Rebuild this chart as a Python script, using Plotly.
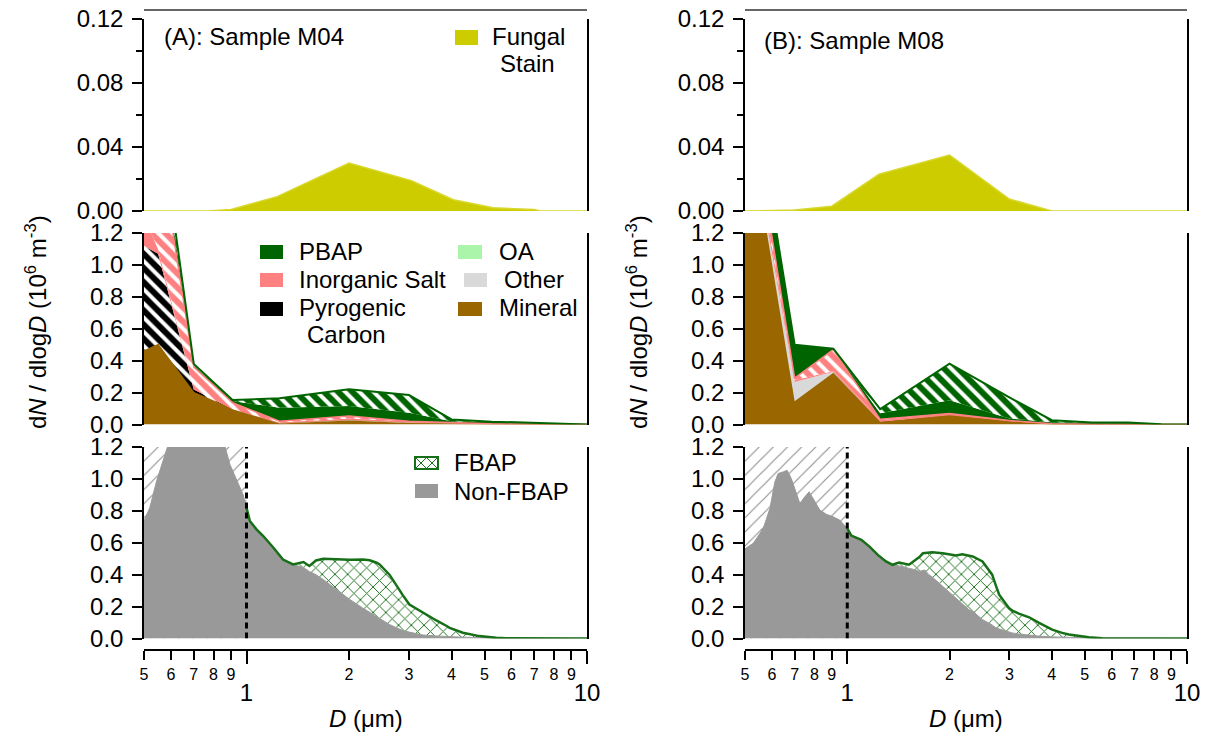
import numpy as np
import plotly.graph_objects as go

W, H = 1209, 745
OFF = 8               # page body margin the browser adds around the figure
FONT = "Arial, Liberation Sans, sans-serif"

X_MIN, X_MAX = 0.5, 10.0
CUTOFF = 1.0          # dashed line in bottom panels (um)
Y_TOP_MAX = 0.12
Y_MAX = 1.2

# ---------------- Top panels: fungal stain ----------------
D_FUNGAL_A = [0.5, 0.77, 0.9, 1.23, 2.0, 3.05, 4.05, 5.3, 7.0, 7.3, 10.0]
FUNGAL_A = [0.0, 0.0, 0.001, 0.009, 0.030, 0.019, 0.007, 0.002, 0.001, 0.0, 0.0]
D_FUNGAL_B = [0.5, 0.7, 0.9, 1.24, 2.0, 3.0, 4.0, 10.0]
FUNGAL_B = [0.0, 0.0006, 0.003, 0.023, 0.035, 0.0075, 0.0, 0.0]

# ---------------- Middle panels: particle classes ----------------
D_CLASS = [0.5, 0.55, 0.70, 0.91, 1.25, 2.0, 3.0, 4.0, 5.25, 6.7, 8.4, 10.0]

MINERAL_A = [0.46, 0.50, 0.20, 0.095, 0.006, 0.025, 0.010, 0.006, 0.004, 0.003, 0.002, 0.0]
PYRO_A = [0.66, 0.57, 0.02, 0, 0, 0, 0, 0, 0, 0, 0, 0]
OTHER_A = [0, 0, 0, 0, 0.002, 0.003, 0.002, 0, 0, 0, 0, 0]
OA_A = [0, 0, 0, 0, 0, 0, 0, 0, 0, 0, 0, 0]
SALT_A = [0.18, 0.03, 0.0, 0.0, 0.004, 0.010, 0.008, 0.004, 0, 0, 0, 0]
SALT_MIX_A = [0.40, 0.70, 0.14, 0.042, 0.008, 0.015, 0.0, 0, 0, 0, 0, 0]
PBAP_A = [0.05, 0.10, 0.01, 0.010, 0.085, 0.063, 0.054, 0.010, 0.014, 0.009, 0.006, 0.0]
PBAP_MIX_A = [0.05, 0.10, 0.01, 0.007, 0.059, 0.105, 0.111, 0.012, 0, 0, 0, 0]

MINERAL_B = [2.0, 1.5, 0.146, 0.325, 0.0125, 0.058, 0.02, 0.004, 0.002, 0.002, 0.001, 0.0]
PYRO_B = [0, 0, 0, 0, 0.005, 0, 0, 0, 0, 0, 0, 0]
OTHER_B = [0.05, 0.03, 0.121, 0.005, 0, 0, 0, 0, 0, 0, 0, 0]
OA_B = [0, 0, 0, 0, 0, 0, 0, 0, 0, 0, 0, 0]
SALT_B = [0.05, 0.05, 0.01, 0.005, 0.01, 0.011, 0.005, 0, 0, 0, 0, 0]
SALT_MIX_B = [0.1, 0.1, 0.013, 0.135, 0.005, 0, 0, 0, 0, 0, 0, 0]
PBAP_B = [0.2, 0.2, 0.21, 0.005, 0.0375, 0.083, 0.0125, 0.01, 0.01, 0.01, 0.0, 0.0]
PBAP_MIX_B = [0, 0, 0, 0, 0.026, 0.229, 0.1325, 0.013, 0, 0, 0, 0]

# ---------------- Bottom panels: FBAP / non-FBAP ----------------
D_SIZE_A = [0.50, 0.52, 0.545, 0.57, 0.59, 0.64, 0.71, 0.80, 0.86, 0.894, 0.935, 0.978, 1.0, 1.023,
            1.07, 1.12, 1.20, 1.28, 1.37, 1.43, 1.47, 1.53, 1.60, 1.68, 1.84, 2.01, 2.20, 2.30,
            2.41, 2.46, 2.63, 2.82, 2.88, 3.01, 3.22, 3.30, 3.61, 3.86, 3.95, 4.32, 4.83, 5.41,
            5.79, 10.0]
NONFBAP_A = [0.736, 0.82, 0.99, 1.13, 1.22, 1.40, 1.50, 1.40, 1.22, 1.09, 0.99, 0.90, 0.82, 0.736,
             0.684, 0.642, 0.569, 0.495, 0.464, 0.454, 0.445, 0.42, 0.40, 0.37, 0.307, 0.245, 0.19,
             0.165, 0.14, 0.128, 0.088, 0.058, 0.05, 0.04, 0.025, 0.022, 0.016, 0.0125, 0.011,
             0.008, 0.006, 0.003, 0.001, 0.0]
TOTAL_A = [0.736, 0.82, 0.99, 1.13, 1.22, 1.40, 1.50, 1.40, 1.22, 1.09, 0.99, 0.90, 0.82, 0.736,
           0.684, 0.642, 0.569, 0.495, 0.464, 0.475, 0.479, 0.454, 0.489, 0.50, 0.495, 0.493, 0.495,
           0.49, 0.475, 0.464, 0.40, 0.297, 0.27, 0.213, 0.175, 0.161, 0.113, 0.08, 0.067, 0.036,
           0.015, 0.004, 0.001, 0.0]

D_SIZE_B = [0.50, 0.529, 0.566, 0.592, 0.612, 0.626, 0.648, 0.665, 0.685, 0.709, 0.725, 0.75, 0.772,
            0.793, 0.83, 0.868, 0.908, 0.95, 1.0, 1.028, 1.10, 1.163, 1.23, 1.30, 1.36, 1.42, 1.52,
            1.59, 1.63, 1.67, 1.69, 1.74, 1.78, 1.91, 2.09, 2.18, 2.28, 2.34, 2.50, 2.67, 2.74, 2.80,
            2.99, 3.06, 3.20, 3.43, 3.67, 4.01, 4.29, 4.49, 5.14, 5.62, 10.0]
NONFBAP_B = [0.562, 0.597, 0.69, 0.815, 0.98, 1.034, 1.044, 1.054, 1.0, 0.909, 0.846, 0.888, 0.919,
             0.878, 0.805, 0.778, 0.763, 0.742, 0.69, 0.645, 0.618, 0.576, 0.524, 0.483, 0.462,
             0.455, 0.441, 0.43, 0.42, 0.425, 0.43, 0.40, 0.385, 0.327, 0.254, 0.22, 0.181, 0.17,
             0.119, 0.085, 0.067, 0.06, 0.04, 0.035, 0.028, 0.021, 0.015, 0.01, 0.008, 0.006,
             0.004, 0.002, 0.0]
TOTAL_B = [0.562, 0.597, 0.69, 0.815, 0.98, 1.034, 1.044, 1.054, 1.0, 0.909, 0.846, 0.888, 0.919,
           0.878, 0.805, 0.778, 0.763, 0.742, 0.69, 0.645, 0.618, 0.576, 0.524, 0.483, 0.462,
           0.476, 0.462, 0.493, 0.51, 0.534, 0.536, 0.54, 0.541, 0.534, 0.52, 0.528, 0.52, 0.514,
           0.483, 0.40, 0.33, 0.275, 0.191, 0.175, 0.156, 0.133, 0.098, 0.056, 0.035, 0.025,
           0.008, 0.001, 0.0]

# tick labels
TOP_TICKS = [0.0, 0.04, 0.08, 0.12]
TOP_TICKTEXT = ["0.00", "0.04", "0.08", "0.12"]
TOP_MINOR = [0.02, 0.06, 0.10]
N_TICKS = [0.0, 0.2, 0.4, 0.6, 0.8, 1.0, 1.2]
N_TICKTEXT = ["0.0", "0.2", "0.4", "0.6", "0.8", "1.0", "1.2"]
X_MINOR_VALS = [0.5, 0.6, 0.7, 0.8, 0.9, 2, 3, 4, 5, 6, 7, 8, 9]
X_MINOR_TEXT = ["5", "6", "7", "8", "9", "2", "3", "4", "5", "6", "7", "8", "9"]
X_MAJOR_VALS = [1, 10]
X_MAJOR_TEXT = ["1", "10"]

# colours
C_FUNGAL = "#CCCC00"
C_MINERAL = "#996600"
C_PYRO = "#000000"
C_OTHER = "#D9D9D9"
C_OA = "#AAF5AA"
C_SALT = "#FF8080"
C_PBAP = "#006400"
C_NONFBAP = "#999999"
C_FBAP = "#176F17"

fig = go.Figure()

AX = {
    "A": dict(top=("x", "y"), mid=("x2", "y2"), bot=("x3", "y3"), major="x7"),
    "B": dict(top=("x4", "y4"), mid=("x5", "y5"), bot=("x6", "y6"), major="x8"),
}

# top panels
for s, D, F in (("A", D_FUNGAL_A, FUNGAL_A), ("B", D_FUNGAL_B, FUNGAL_B)):
    xa, ya = AX[s]["top"]
    fig.add_trace(go.Scatter(x=D, y=F, xaxis=xa, yaxis=ya, mode="lines", fill="tozeroy",
                             fillcolor=C_FUNGAL, line=dict(color="#D8D830", width=1.5),
                             hoverinfo="skip", showlegend=False))


def hatch(color):
    return dict(shape="\\", bgcolor=color, fgcolor="white", size=10, solidity=0.4,
                fillmode="replace")


# middle panels: stacked classes
STACKS = {
    "A": [(MINERAL_A, C_MINERAL, False, 1.5), (PYRO_A, C_PYRO, True, 0), (OTHER_A, C_OTHER, False, 0),
          (OA_A, C_OA, False, 0), (SALT_A, C_SALT, False, 0), (SALT_MIX_A, C_SALT, True, 1.5),
          (PBAP_A, C_PBAP, False, 0), (PBAP_MIX_A, C_PBAP, True, 2)],
    "B": [(MINERAL_B, C_MINERAL, False, 1.5), (PYRO_B, C_PYRO, True, 0), (OTHER_B, C_OTHER, False, 0),
          (OA_B, C_OA, False, 0), (SALT_B, C_SALT, False, 0), (SALT_MIX_B, C_SALT, True, 1.5),
          (PBAP_B, C_PBAP, False, 0), (PBAP_MIX_B, C_PBAP, True, 2)],
}
for s in ("A", "B"):
    xa, ya = AX[s]["mid"]
    base = np.zeros(len(D_CLASS))
    for i, (vals, color, hatched, lw) in enumerate(STACKS[s]):
        top = base + np.array(vals, dtype=float)
        kw = dict(x=D_CLASS, y=top, xaxis=xa, yaxis=ya, mode="lines",
                  fill="tozeroy" if i == 0 else "tonexty", fillcolor=color,
                  line=dict(color=color, width=lw), hoverinfo="skip", showlegend=False)
        if hatched:
            kw["fillpattern"] = hatch(color)
        fig.add_trace(go.Scatter(**kw))
        base = top

# bottom panels
for s, D, NF, TOT in (("A", D_SIZE_A, NONFBAP_A, TOTAL_A), ("B", D_SIZE_B, NONFBAP_B, TOTAL_B)):
    xa, ya = AX[s]["bot"]
    fig.add_trace(go.Scatter(x=[X_MIN, CUTOFF, CUTOFF, X_MIN, X_MIN], y=[0, 0, Y_MAX, Y_MAX, 0],
                             xaxis=xa, yaxis=ya, mode="lines", fill="toself", fillcolor="white",
                             fillpattern=dict(shape="/", bgcolor="white", fgcolor="#8a8a8a",
                                              size=10, solidity=0.1, fillmode="replace"),
                             line=dict(width=0), hoverinfo="skip", showlegend=False))
    fig.add_trace(go.Scatter(x=D, y=NF, xaxis=xa, yaxis=ya, mode="lines", fill="tozeroy",
                             fillcolor=C_NONFBAP, line=dict(color=C_NONFBAP, width=1),
                             hoverinfo="skip", showlegend=False))
    fig.add_trace(go.Scatter(x=D, y=TOT, xaxis=xa, yaxis=ya, mode="lines", fill="tonexty",
                             fillcolor="white",
                             fillpattern=dict(shape="x", bgcolor="white", fgcolor=C_FBAP,
                                              size=9, solidity=0.2, fillmode="replace"),
                             line=dict(width=0), hoverinfo="skip", showlegend=False))
    Darr = np.array(D)
    m = Darr >= CUTOFF
    fig.add_trace(go.Scatter(x=Darr[m], y=np.array(TOT)[m], xaxis=xa, yaxis=ya, mode="lines",
                             line=dict(color=C_FBAP, width=2.5), hoverinfo="skip", showlegend=False))
    # dummy on the major tick axis so it is drawn
    fig.add_trace(go.Scatter(x=[None], y=[None], xaxis=AX[s]["major"], yaxis=ya,
                             hoverinfo="skip", showlegend=False))


# ---------------- layout ----------------
def px(x):
    return (x - OFF) / W


def py(y):
    return 1 - (y - OFF) / H


XDOM = {"A": [px(144), px(587)], "B": [px(745), px(1187)]}
YDOM = {"top": [py(211), py(19)], "mid": [py(424.5), py(233)], "bot": [py(638.5), py(447)]}
XPOS = py(650)
XR = [np.log10(X_MIN), np.log10(X_MAX)]

layout = dict(width=W, height=H, margin=dict(l=0, r=0, t=0, b=0, autoexpand=False),
              paper_bgcolor="white", plot_bgcolor="white", showlegend=False,
              font=dict(family=FONT, size=24, color="black"))

yax_common = dict(showline=True, linecolor="black", linewidth=1.5, mirror=True, ticks="outside",
                  ticklen=10, tickwidth=1.5, tickcolor="black", showgrid=False, zeroline=False,
                  tickfont=dict(size=24, color="black"), ticklabelstandoff=4, tickmode="array",
                  automargin=False, ticklabeloverflow="allow")


def axname(n):
    return n.replace("x", "xaxis").replace("y", "yaxis")


for s in ("A", "B"):
    for row in ("top", "mid", "bot"):
        xa, ya = AX[s][row]
        xd = dict(type="log", range=XR, domain=XDOM[s], showgrid=False, zeroline=False,
                  automargin=False)
        if row == "bot":
            xd.update(anchor="free", position=XPOS, showline=True, linecolor="black", linewidth=1.5,
                      ticks="outside", ticklen=9, tickwidth=1.5, tickcolor="black",
                      tickmode="array", tickvals=X_MINOR_VALS, ticktext=X_MINOR_TEXT,
                      tickfont=dict(size=16, color="black"), ticklabelstandoff=1,
                      ticklabeloverflow="allow")
        else:
            xd.update(anchor=ya, visible=False)
        layout[axname(xa)] = xd
        yd = dict(yax_common, anchor=xa, domain=YDOM[row])
        if row == "top":
            yd.update(range=[0, Y_TOP_MAX], tickvals=TOP_TICKS, ticktext=TOP_TICKTEXT,
                      minor=dict(tickmode="array", tickvals=TOP_MINOR, ticks="outside", ticklen=6,
                                 tickwidth=1.5, tickcolor="black", showgrid=False))
        else:
            yd.update(range=[0, Y_MAX], tickvals=N_TICKS, ticktext=N_TICKTEXT)
        layout[axname(ya)] = yd
    layout[axname(AX[s]["major"])] = dict(
        type="log", range=XR, overlaying=AX[s]["bot"][0], anchor="free", position=XPOS,
        showline=False, showgrid=False, zeroline=False, ticks="outside", ticklen=13, tickwidth=1.5,
        tickcolor="black", tickmode="array", tickvals=X_MAJOR_VALS, ticktext=X_MAJOR_TEXT,
        tickfont=dict(size=24, color="black"), ticklabelstandoff=8, automargin=False,
        ticklabeloverflow="allow")

fig.update_layout(**layout)

shapes = []
annotations = []


def rect(x0, y0, x1, y1, fill, line=None, lw=0):
    shapes.append(dict(type="rect", xref="paper", yref="paper", x0=px(x0), x1=px(x1), y0=py(y1),
                       y1=py(y0), fillcolor=fill, line=dict(color=line or fill, width=lw), layer="above"))


def seg(x0, y0, x1, y1, color, w):
    shapes.append(dict(type="line", xref="paper", yref="paper", x0=px(x0), x1=px(x1), y0=py(y0),
                       y1=py(y1), line=dict(color=color, width=w), layer="above"))


def text(x, y, t, anchor="left", size=24):
    annotations.append(dict(xref="paper", yref="paper", x=px(x), y=py(y), text=t, showarrow=False,
                            xanchor=anchor, yanchor="middle", font=dict(size=size, family=FONT, color="black")))


# top frame lines
seg(144, 10, 587, 10, "#333333", 1.5)
seg(745, 10, 1187, 10, "#333333", 1.5)

# dashed cutoff lines
for s in ("A", "B"):
    xa, ya = AX[s]["bot"]
    shapes.append(dict(type="line", xref=xa, yref=ya, x0=CUTOFF, x1=CUTOFF, y0=0, y1=Y_MAX,
                       line=dict(color="black", width=3, dash="6px,4px"), layer="above"))

# panel titles
text(162, 37, "(A): Sample M04")
text(762, 41, "(B): Sample M08")

# fungal legend
rect(455, 30, 478, 45, C_FUNGAL)
text(528, 37, "Fungal", anchor="center")
text(527, 63, "Stain", anchor="center")

# class legend
rect(260, 245, 283, 259, C_PBAP)
text(297, 251, "PBAP")
rect(260, 273, 283, 287, C_SALT)
text(297, 279, "Inorganic Salt")
rect(260, 302, 283, 316, C_PYRO)
text(297, 307, "Pyrogenic")
text(305, 334, "Carbon")
rect(458, 245, 482, 259, C_OA)
text(497, 251, "OA")
rect(464, 273, 487, 287, C_OTHER)
text(502, 279, "Other")
rect(458, 302, 482, 316, C_MINERAL)
text(497, 307, "Mineral")

# FBAP legend
rect(415, 457, 438, 469, "white", C_FBAP, 2)
seg(415, 457, 427, 469, C_FBAP, 1)
seg(426, 457, 438, 469, C_FBAP, 1)
seg(415, 469, 427, 457, C_FBAP, 1)
seg(426, 469, 438, 457, C_FBAP, 1)
text(452, 462, "FBAP")
rect(415, 484, 438, 498, C_NONFBAP)
text(452, 491, "Non-FBAP")

# axis titles
YT = "d<i>N</i> / dlog<i>D</i> (10<sup>6</sup> m<sup>-3</sup>)"
for xc in (36, 637):
    annotations.append(dict(xref="paper", yref="paper", x=px(xc), y=py(322), text=YT, textangle=-90,
                            showarrow=False, xanchor="center", yanchor="middle",
                            font=dict(size=24, family=FONT, color="black")))
for xc in (365.5, 966):
    text(xc, 718, "<i>D</i> (μm)", anchor="center")

fig.update_layout(shapes=shapes, annotations=annotations)
fig.write_html("out.html")
